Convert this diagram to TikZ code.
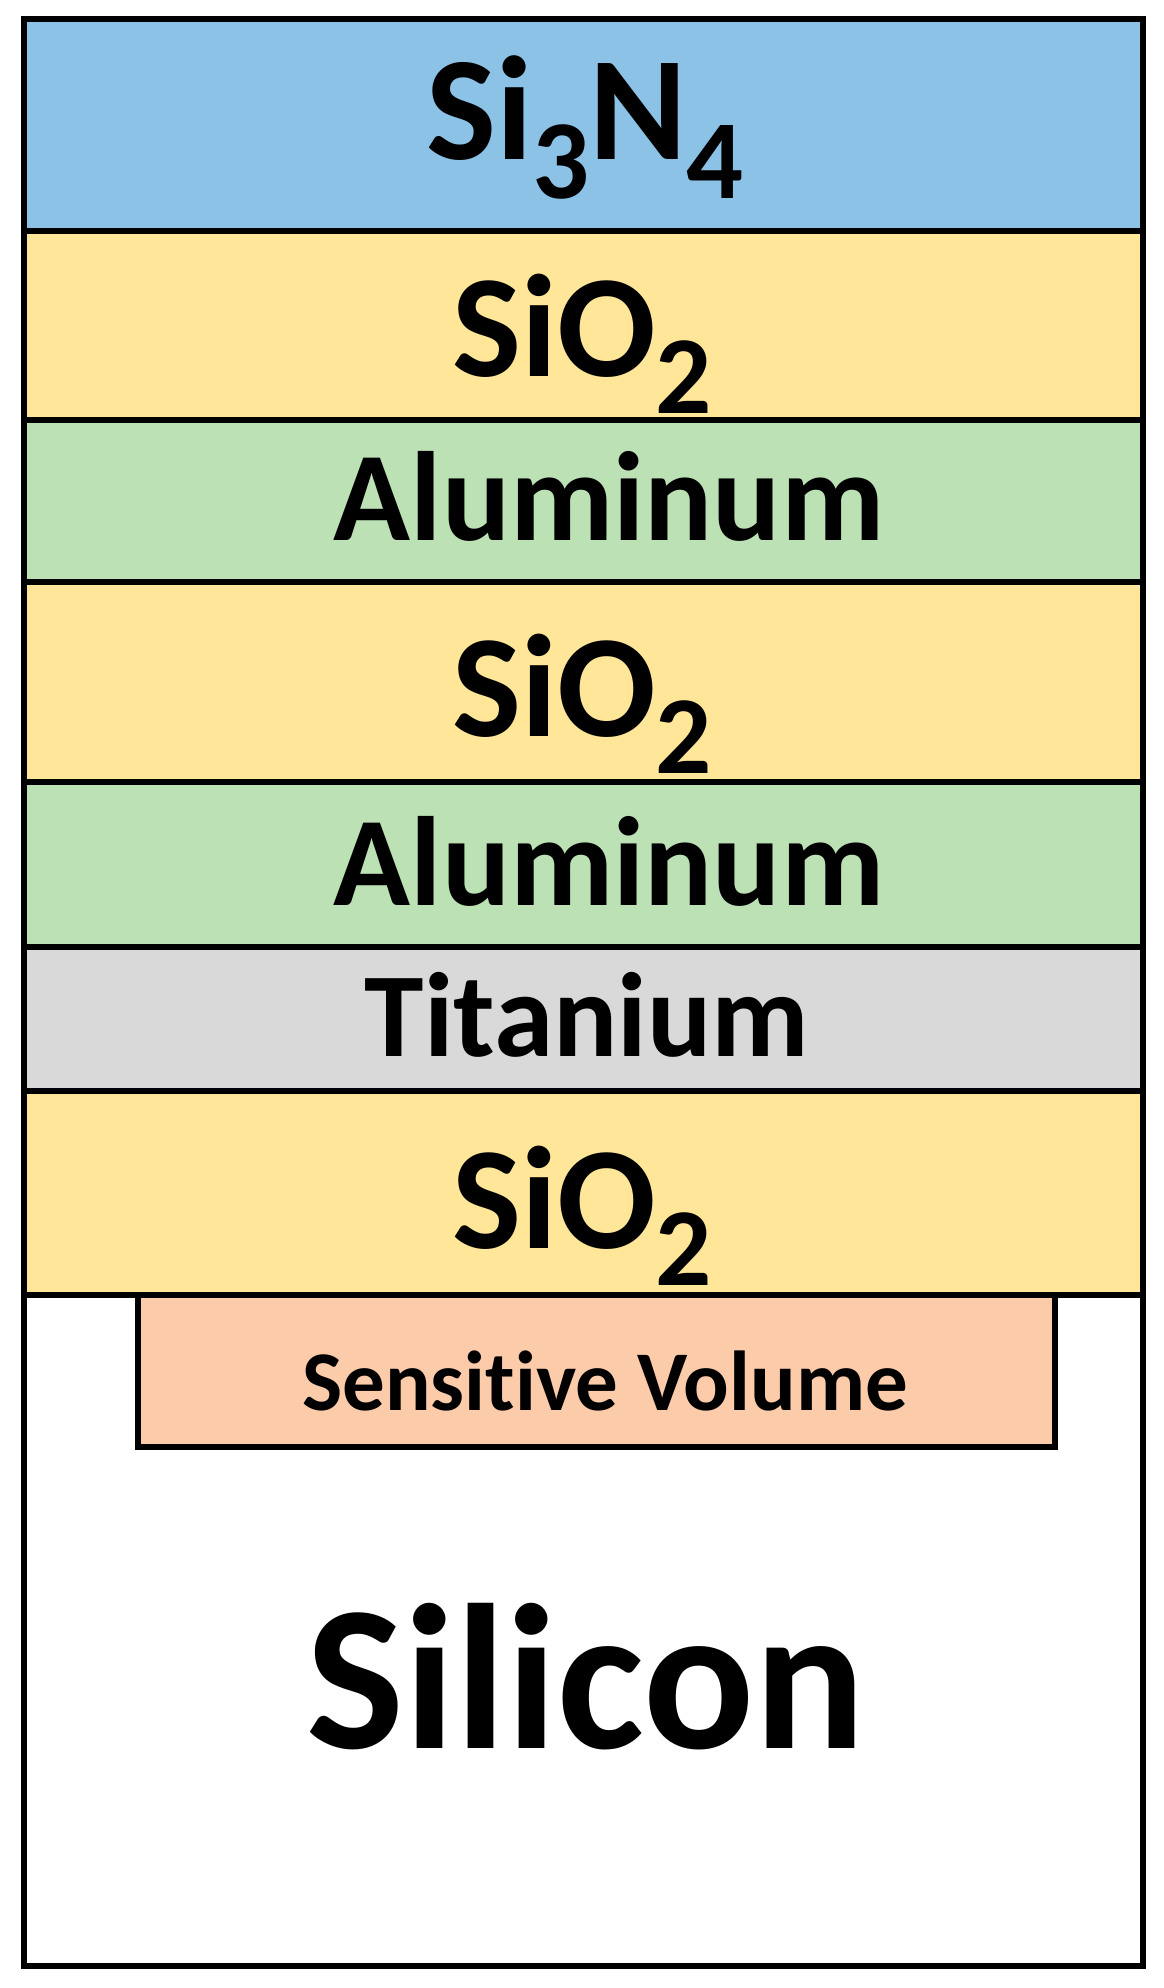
\documentclass[tikz,border=0pt]{standalone}
\usepackage{fontspec}
\setmainfont[Ligatures={NoCommon,NoRequired,NoContextual}]{Carlito}
\newcommand\lsub[1]{\raisebox{-0.26em}{\scalebox{0.76}{#1}}}
\definecolor{nitride}{HTML}{8BC2E6}
\definecolor{oxide}{HTML}{FFE699}
\definecolor{alum}{HTML}{BBE1B4}
\definecolor{titan}{HTML}{D9D9D9}
\definecolor{sens}{HTML}{FCCBAA}
\tikzset{
  layer/.style={draw=black, line width=6.5pt},
  lbl/.style={anchor=base, inner sep=0pt, font=\bfseries},
}
\begin{document}
\begin{tikzpicture}[x=1pt,y=-1pt]
\useasboundingbox (0,0) rectangle (1163,1988);
\fill[white] (0,0) rectangle (1163,1988);
% layers
\draw[layer, fill=white]   (24,1295) rectangle (1143,1966);
\draw[layer, fill=nitride] (24,19)   rectangle (1143,231);
\draw[layer, fill=oxide]   (24,231)  rectangle (1143,420);
\draw[layer, fill=alum]    (24,420)  rectangle (1143,582);
\draw[layer, fill=oxide]   (24,582)  rectangle (1143,782);
\draw[layer, fill=alum]    (24,782)  rectangle (1143,947);
\draw[layer, fill=titan]   (24,947)  rectangle (1143,1091);
\draw[layer, fill=oxide]   (24,1091) rectangle (1143,1295);
\draw[layer, fill=sens]    (138,1295) rectangle (1055,1447);
% labels
\node[lbl] (nit) at (585,160) {\fontsize{148}{148}\selectfont Si\lsub{3}N\lsub{4}};
\node[lbl] (ox1) at (582,376) {\fontsize{146}{146}\selectfont SiO\lsub{2}};
\node[lbl] (al1) at (609,540) {\fontsize{127}{127}\selectfont Aluminum};
\node[lbl] (ox2) at (582,736) {\fontsize{146}{146}\selectfont SiO\lsub{2}};
\node[lbl] (al2) at (609,905) {\fontsize{127}{127}\selectfont Aluminum};
\node[lbl] (ti)  at (587,1056) {\fontsize{120}{120}\selectfont Titanium};
\node[lbl] (ox3) at (582,1248) {\fontsize{146}{146}\selectfont SiO\lsub{2}};
\node[lbl] (sv)  at (605,1410) {\fontsize{85}{85}\selectfont Sensitive Volume};
\node[lbl] (si)  at (586,1748) {\fontsize{207}{207}\selectfont Silicon};
\end{tikzpicture}
\end{document}
